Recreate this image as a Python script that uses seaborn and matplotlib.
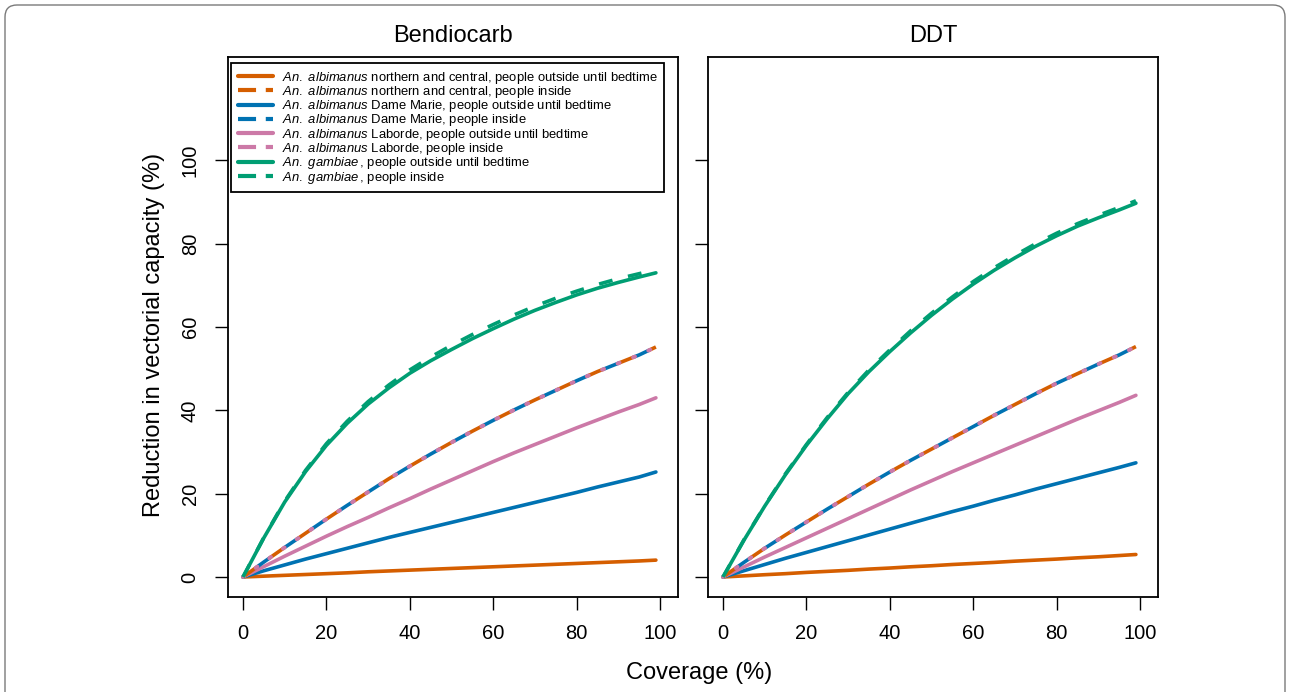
import matplotlib
matplotlib.use("Agg")
import matplotlib.pyplot as plt
import seaborn as sns
from matplotlib.lines import Line2D
from matplotlib.patches import FancyBboxPatch

# ---------------- data ----------------
coverage = [0, 5, 10, 15, 20, 25, 30, 35, 40, 45, 50, 55, 60, 65, 70, 75, 80, 85, 90, 95, 99]

# Bendiocarb
bend_alb_nc_out = [0, 0.2, 0.4, 0.6, 0.8, 1.0, 1.25, 1.45, 1.65, 1.85, 2.05, 2.25, 2.45, 2.65, 2.85, 3.05, 3.25, 3.45, 3.65, 3.85, 4.05]
bend_alb_nc_in = [0, 3.6, 7.1, 10.5, 13.9, 17.2, 20.4, 23.6, 26.6, 29.5, 32.3, 35.0, 37.6, 40.1, 42.5, 44.8, 47.1, 49.3, 51.3, 53.3, 55.2]
bend_alb_dm_out = [0, 1.5, 2.9, 4.3, 5.6, 6.9, 8.2, 9.5, 10.7, 11.9, 13.1, 14.3, 15.5, 16.7, 17.9, 19.1, 20.3, 21.6, 22.8, 24.0, 25.2]
bend_alb_dm_in = [0, 3.6, 7.1, 10.5, 13.9, 17.2, 20.4, 23.6, 26.6, 29.5, 32.3, 35.0, 37.6, 40.1, 42.5, 44.8, 47.1, 49.3, 51.3, 53.3, 55.2]
bend_alb_lb_out = [0, 2.5, 5.0, 7.4, 9.8, 12.1, 14.3, 16.6, 18.8, 21.1, 23.3, 25.5, 27.7, 29.8, 31.8, 33.8, 35.8, 37.7, 39.6, 41.4, 43.0]
bend_alb_lb_in = [0, 3.6, 7.1, 10.5, 13.9, 17.2, 20.4, 23.6, 26.6, 29.5, 32.3, 35.0, 37.6, 40.1, 42.5, 44.8, 47.1, 49.3, 51.3, 53.3, 55.2]
bend_gam_out = [0, 9.4, 18.0, 25.3, 31.6, 36.9, 41.5, 45.4, 48.9, 51.9, 54.6, 57.2, 59.6, 61.9, 64.0, 65.9, 67.7, 69.3, 70.7, 72.0, 73.0]
bend_gam_in = [0, 9.5, 18.2, 25.6, 32.0, 37.4, 42.1, 46.1, 49.7, 52.8, 55.6, 58.2, 60.6, 62.9, 65.0, 66.9, 68.6, 70.2, 71.6, 72.8, 73.8]

# DDT
ddt_alb_nc_out = [0, 0.27, 0.55, 0.8, 1.1, 1.35, 1.6, 1.9, 2.15, 2.45, 2.7, 3.0, 3.25, 3.5, 3.8, 4.05, 4.3, 4.6, 4.85, 5.15, 5.4]
ddt_alb_nc_in = [0, 3.5, 6.9, 10.1, 13.2, 16.3, 19.3, 22.3, 25.2, 28.0, 30.7, 33.4, 36.1, 38.8, 41.4, 44.0, 46.5, 48.8, 51.1, 53.3, 55.3]
ddt_alb_dm_out = [0, 1.5, 3.0, 4.5, 5.9, 7.3, 8.7, 10.1, 11.5, 12.9, 14.3, 15.7, 17.0, 18.4, 19.7, 21.1, 22.4, 23.7, 25.0, 26.3, 27.4]
ddt_alb_dm_in = [0, 3.5, 6.9, 10.1, 13.2, 16.3, 19.3, 22.3, 25.2, 28.0, 30.7, 33.4, 36.1, 38.8, 41.4, 44.0, 46.5, 48.8, 51.1, 53.3, 55.3]
ddt_alb_lb_out = [0, 2.4, 4.8, 7.1, 9.4, 11.7, 14.0, 16.3, 18.6, 20.9, 23.1, 25.3, 27.4, 29.5, 31.6, 33.7, 35.8, 37.9, 39.9, 41.9, 43.6]
ddt_alb_lb_in = [0, 3.5, 6.9, 10.1, 13.2, 16.3, 19.3, 22.3, 25.2, 28.0, 30.7, 33.4, 36.1, 38.8, 41.4, 44.0, 46.5, 48.8, 51.1, 53.3, 55.3]
ddt_gam_out = [0, 8.8, 17.0, 24.6, 31.6, 38.0, 44.0, 49.3, 54.1, 58.6, 62.8, 66.7, 70.3, 73.6, 76.6, 79.4, 81.9, 84.2, 86.2, 88.1, 89.7]
ddt_gam_in = [0, 8.9, 17.1, 24.8, 31.8, 38.3, 44.3, 49.7, 54.5, 59.1, 63.3, 67.2, 70.9, 74.2, 77.2, 80.0, 82.5, 84.8, 86.8, 88.7, 90.3]

panel_titles = ["Bendiocarb", "DDT"]
x_ticks = [0, 20, 40, 60, 80, 100]
y_ticks = [0, 20, 40, 60, 80, 100]
x_label = "Coverage (%)"
y_label = "Reduction in vectorial capacity (%)"

labels = [
    r"$\mathit{An.\ albimanus}$ northern and central, people outside until bedtime",
    r"$\mathit{An.\ albimanus}$ northern and central, people inside",
    r"$\mathit{An.\ albimanus}$ Dame Marie, people outside until bedtime",
    r"$\mathit{An.\ albimanus}$ Dame Marie, people inside",
    r"$\mathit{An.\ albimanus}$ Laborde, people outside until bedtime",
    r"$\mathit{An.\ albimanus}$ Laborde, people inside",
    r"$\mathit{An.\ gambiae}\,$, people outside until bedtime",
    r"$\mathit{An.\ gambiae}\,$, people inside",
]

c_orange = "#D55E00"
c_blue = "#0072B2"
c_pink = "#CC79A7"
c_green = "#009E73"
colors = [c_orange, c_orange, c_blue, c_blue, c_pink, c_pink, c_green, c_green]

# ---------------- style ----------------
sns.set_style("ticks")
plt.rcParams["font.family"] = ["Liberation Sans", "DejaVu Sans"]
plt.rcParams["mathtext.fontset"] = "custom"
plt.rcParams["mathtext.rm"] = "Liberation Sans"
plt.rcParams["mathtext.it"] = "Liberation Sans:italic"
plt.rcParams["lines.scale_dashes"] = False
for k in ["text.color", "axes.labelcolor", "xtick.color", "ytick.color",
          "axes.edgecolor", "axes.titlecolor"]:
    plt.rcParams[k] = "black"

W, H = 1290, 692
fig = plt.figure(figsize=(W / 100, H / 100), dpi=100)

ax_left = [228 / W, 708 / W]
ax_w = 450 / W
ax_b = 1 - 597 / H
ax_h = 540 / H
axes = [fig.add_axes([l, ax_b, ax_w, ax_h]) for l in ax_left]

LW = 2.6
inside_styles = {
    c_orange: dict(ls=(0, (12, 12)), lw=LW, cap="butt", z=2.1),
    c_blue: dict(ls=(12, (12, 12)), lw=LW, cap="butt", z=2.2),
    c_pink: dict(ls=(0.75, (1.5, 10.5)), lw=LW * 1.1, cap="round", z=2.3),
    c_green: dict(ls=(0, (10, 11.5)), lw=LW, cap="butt", z=2.4),
}

panels = [
    [bend_alb_nc_out, bend_alb_nc_in, bend_alb_dm_out, bend_alb_dm_in,
     bend_alb_lb_out, bend_alb_lb_in, bend_gam_out, bend_gam_in],
    [ddt_alb_nc_out, ddt_alb_nc_in, ddt_alb_dm_out, ddt_alb_dm_in,
     ddt_alb_lb_out, ddt_alb_lb_in, ddt_gam_out, ddt_gam_in],
]

for ax, series, title in zip(axes, panels, panel_titles):
    for i, (vals, col) in enumerate(zip(series, colors)):
        if i % 2 == 1:
            st = inside_styles[col]
            sns.lineplot(x=coverage, y=vals, ax=ax, color=col, linewidth=st["lw"],
                         linestyle=st["ls"], dash_capstyle=st["cap"], zorder=st["z"])
        else:
            sns.lineplot(x=coverage, y=vals, ax=ax, color=col, linewidth=LW,
                         linestyle="-", solid_capstyle="round", zorder=2)
    ax.set_xlim(-3.6, 104.3)
    ax.set_ylim(-4.8, 124.8)
    ax.set_xticks(x_ticks)
    ax.set_yticks(y_ticks)
    ax.tick_params(axis="both", length=9.4, width=1.0, labelsize=14.5,
                   color="black", labelcolor="black", direction="out")
    ax.tick_params(axis="x", pad=10)
    ax.tick_params(axis="y", pad=11)
    for sp in ax.spines.values():
        sp.set_visible(True)
        sp.set_color("black")
        sp.set_linewidth(1.3)
    ax.set_title(title, fontsize=17, pad=11, color="black")
    ax.set_xlabel("")
    ax.set_ylabel("")

for lab in axes[0].get_yticklabels():
    lab.set_rotation(90)
    lab.set_va("center")
    lab.set_ha("right")
axes[1].tick_params(axis="y", labelleft=False)

# legend
handles = []
for i, col in enumerate(colors):
    if i % 2 == 0:
        handles.append(Line2D([], [], color=col, linewidth=LW + 0.4, linestyle="-"))
    else:
        handles.append(Line2D([], [], color=col, linewidth=LW + 0.4,
                              linestyle=(0, (13, 7))))
leg = axes[0].legend(handles, labels, loc="upper left",
                     bbox_to_anchor=(3 / 450, 1 - 6 / 540), borderaxespad=0,
                     fontsize=9.4, frameon=True, fancybox=False,
                     handlelength=2.72, handletextpad=0.7, labelspacing=-0.13,
                     borderpad=0.5)
leg.set_zorder(5)
leg.get_frame().set_edgecolor("black")
leg.get_frame().set_linewidth(1.3)
leg.get_frame().set_facecolor("white")
leg.get_frame().set_alpha(1)
for t in leg.get_texts():
    t.set_color("black")

fig.text(699 / W, 1 - 673 / H, x_label, fontsize=17, ha="center", va="center")
fig.text(154 / W, 1 - 335 / H, y_label, fontsize=17, ha="center", va="center",
         rotation=90)

# outer rounded frame
frame = FancyBboxPatch((0.05, -0.5), 12.8, 6.92 - 0.05 + 0.5,
                       boxstyle="round,pad=0,rounding_size=0.12",
                       transform=fig.dpi_scale_trans, fill=False,
                       edgecolor="#7a7a7a", linewidth=1.0, clip_on=False)
fig.patches.append(frame)

fig.savefig("out.png", dpi=100)
